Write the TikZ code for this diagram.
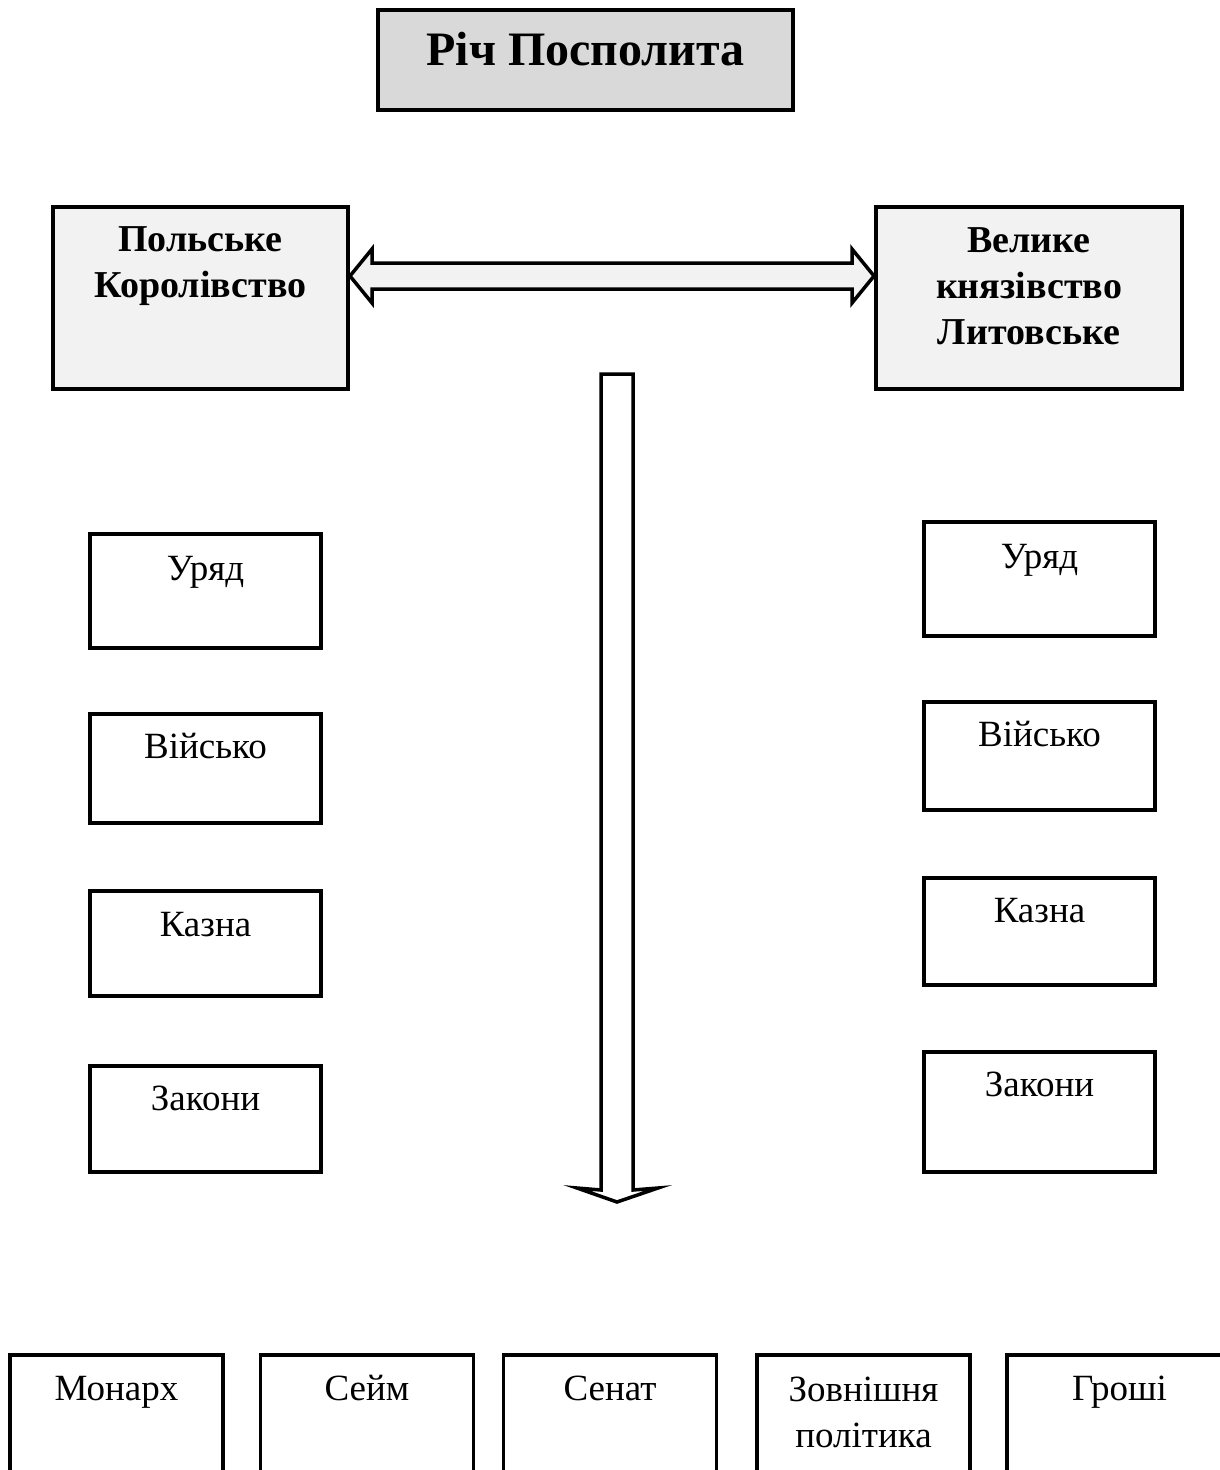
\documentclass[tikz,border=0pt]{standalone}
\usepackage{fontspec}
\setmainfont{Liberation Serif}
\usetikzlibrary{calc}

\definecolor{titlegray}{HTML}{D9D9D9}
\definecolor{lightgray}{HTML}{F2F2F2}

\tikzset{
    titlebox/.style={draw=black, line width=4pt, fill=titlegray, minimum width=415pt, minimum height=100pt},
    statebox/.style={draw=black, line width=4pt, fill=lightgray, minimum height=182pt},
    partbox/.style={draw=black, line width=3.5pt, fill=white, minimum width=231pt},
    commonbox/.style={draw=black, line width=3.5pt, fill=white, minimum width=213pt, minimum height=150pt},
    caption/.style={anchor=base, align=center, inner sep=0pt, font=\fontsize{37}{46}\selectfont},
    boldcaption/.style={caption, font=\fontsize{38}{46}\selectfont\bfseries},
    bigarrow/.style={draw=black, line width=3.5pt, line join=miter},
}

\begin{document}
\begin{tikzpicture}[x=1pt, y=-1pt]
    \useasboundingbox (0,0) rectangle (1220,1470);

    % the union
    \node[titlebox] (rp) at (585.5,60) {};
    \node[boldcaption, font=\fontsize{48}{56}\selectfont\bfseries] (rptext) at ([yshift=-57pt]rp.north) {Річ Посполита};

    % the two states (base anchor = last line)
    \node[statebox, minimum width=295pt] (pk) at (200.5,298) {};
    \node[boldcaption] (pktext) at ([yshift=-92pt]pk.north) {Польське\\Королівство};
    \node[statebox, minimum width=306pt] (vkl) at (1029,298) {};
    \node[boldcaption] (vkltext) at ([yshift=-139pt]vkl.north) {Велике\\князівство\\Литовське};

    % union between them
    \coordinate (la) at ($(pk.north east)+(0,71)$);
    \coordinate (ra) at ($(vkl.north west)+(0,71)$);
    \filldraw[bigarrow, fill=lightgray] (la) -- ++(22,-27) -- ++(0,14) -- ($(ra)+(-22,-13)$) -- ++(0,-14)
        -- (ra) -- ++(-22,27) -- ++(0,-14) -- ($(la)+(22,13)$) -- ++(0,14) -- cycle;

    % own institutions of the Kingdom
    \node[partbox, minimum height=114pt] (pk1) at (205.5,591) {};
    \node[caption] (pk1text) at ([yshift=-48pt]pk1.north) {Уряд};
    \node[partbox, minimum height=109pt] (pk2) at (205.5,768.5) {};
    \node[caption] (pk2text) at ([yshift=-46pt]pk2.north) {Військо};
    \node[partbox, minimum height=105pt] (pk3) at (205.5,943.5) {};
    \node[caption] (pk3text) at ([yshift=-47pt]pk3.north) {Казна};
    \node[partbox, minimum height=106pt] (pk4) at (205.5,1119) {};
    \node[caption] (pk4text) at ([yshift=-46pt]pk4.north) {Закони};

    % own institutions of the Grand Duchy
    \node[partbox, minimum height=114pt] (vkl1) at (1039.5,579) {};
    \node[caption] (vkl1text) at ([yshift=-48pt]vkl1.north) {Уряд};
    \node[partbox, minimum height=108pt] (vkl2) at (1039.5,756) {};
    \node[caption] (vkl2text) at ([yshift=-46pt]vkl2.north) {Військо};
    \node[partbox, minimum height=107pt] (vkl3) at (1039.5,931.5) {};
    \node[caption] (vkl3text) at ([yshift=-46pt]vkl3.north) {Казна};
    \node[partbox, minimum height=120pt] (vkl4) at (1039.5,1112) {};
    \node[caption] (vkl4text) at ([yshift=-46pt]vkl4.north) {Закони};

    % down to the common institutions
    \coordinate (dtop) at (617,374);
    \coordinate (dtip) at (617,1202);
    \filldraw[bigarrow, fill=white] ($(dtop)+(-16,0)$) -- ($(dtop)+(16,0)$) -- ($(dtip)+(16,-12)$) -- ($(dtip)+(41,-14)$)
        -- (dtip) -- ($(dtip)+(-40,-14)$) -- ($(dtip)+(-16,-12)$) -- cycle;

    % common institutions
    \node[commonbox] (c1) at (116.5,1430) {};
    \node[caption] (c1text) at ([yshift=-47pt]c1.north) {Монарх};
    \node[commonbox] (c2) at (367,1430) {};
    \node[caption] (c2text) at ([yshift=-47pt]c2.north) {Сейм};
    \node[commonbox] (c3) at (610,1430) {};
    \node[caption] (c3text) at ([yshift=-47pt]c3.north) {Сенат};
    \node[commonbox] (c4) at (863.5,1430) {};
    \node[caption] (c4text) at ([yshift=-94pt]c4.north) {Зовнішня\\політика};
    \node[commonbox, minimum width=225pt] (c5) at (1119.5,1430) {};
    \node[caption] (c5text) at ([yshift=-47pt]c5.north) {Гроші};

\end{tikzpicture}
\end{document}
